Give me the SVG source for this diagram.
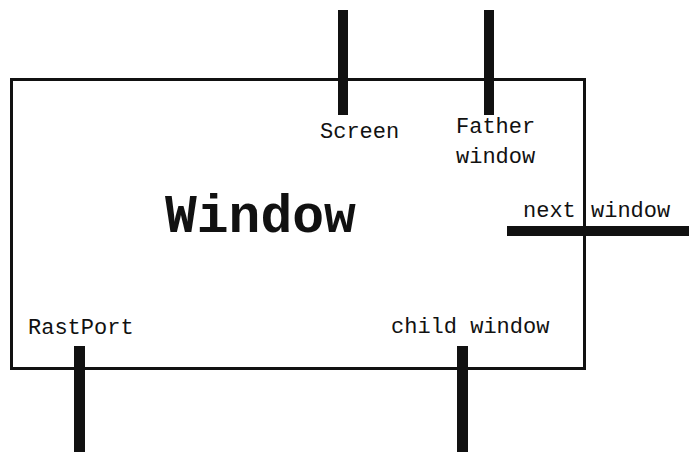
<svg xmlns="http://www.w3.org/2000/svg" width="689" height="455" viewBox="0 0 689 455">
<style>
.lbl{font-family:"Liberation Mono","Courier New",monospace;font-size:22px;fill:#111}
.title{font-family:"Liberation Mono","Courier New",monospace;font-size:53px;font-weight:bold;fill:#111}
.bar{fill:#111}
</style>
<rect width="689" height="455" fill="#fff"/>
<g id="window">
<rect x="11.5" y="79.5" width="573" height="289" fill="none" stroke="#111" stroke-width="3"/>
<text class="title" x="165" y="232">Window</text>
</g>
<g id="screen"><text class="lbl" x="320" y="138">Screen</text></g>
<g id="father"><text class="lbl" x="456" y="133">Father</text><text class="lbl" x="456" y="163">window</text></g>
<g id="next"><text class="lbl" x="523" y="217">next</text><text class="lbl" x="591" y="217">window</text></g>
<g id="rastport"><text class="lbl" x="28" y="334">RastPort</text></g>
<g id="child"><text class="lbl" x="391" y="333">child window</text></g>
<g id="connectors">
<rect class="bar" x="338" y="10" width="10" height="105"/>
<rect class="bar" x="484" y="10" width="10" height="105"/>
<rect class="bar" x="507" y="226" width="182" height="10"/>
<rect class="bar" x="74" y="346" width="11" height="106"/>
<rect class="bar" x="457" y="346" width="11" height="106"/>
</g>
</svg>
